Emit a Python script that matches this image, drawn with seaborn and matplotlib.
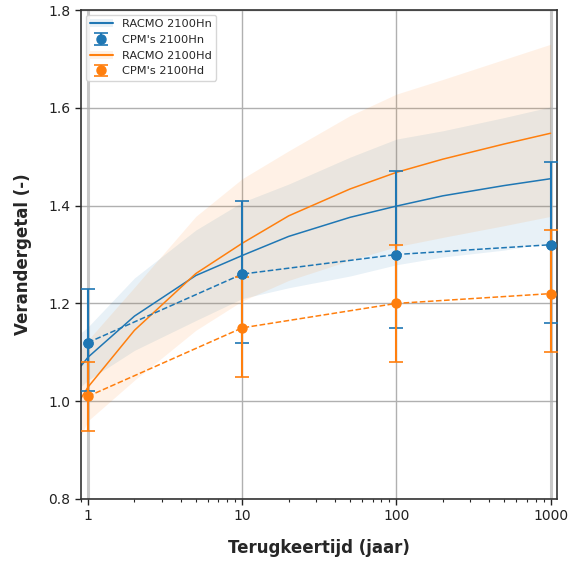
import numpy as np
import pandas as pd
import matplotlib
matplotlib.use("Agg")
import matplotlib.pyplot as plt
from matplotlib.ticker import FixedLocator, FixedFormatter, LogLocator, NullFormatter
from matplotlib.lines import Line2D
import seaborn as sns

# ---------------- data ----------------
racmo_x = [0.9, 1, 2, 5, 10, 20, 50, 100, 200, 500, 1000]
racmo_hn = [1.072, 1.090, 1.174, 1.257, 1.298, 1.337, 1.376, 1.399, 1.420, 1.441, 1.455]
racmo_hn_lo = [1.030, 1.043, 1.104, 1.165, 1.210, 1.232, 1.256, 1.279, 1.295, 1.309, 1.325]
racmo_hn_hi = [1.140, 1.152, 1.252, 1.350, 1.407, 1.444, 1.499, 1.536, 1.553, 1.580, 1.602]
racmo_hd = [1.006, 1.029, 1.145, 1.261, 1.323, 1.379, 1.434, 1.468, 1.495, 1.526, 1.548]
racmo_hd_lo = [0.930, 0.960, 1.043, 1.145, 1.205, 1.247, 1.288, 1.316, 1.335, 1.359, 1.378]
racmo_hd_hi = [1.105, 1.125, 1.233, 1.378, 1.455, 1.512, 1.584, 1.628, 1.658, 1.699, 1.730]

cpm_x = [1, 10, 100, 1000]
cpm_hn = [1.12, 1.26, 1.30, 1.32]
cpm_hn_lo = [1.02, 1.12, 1.15, 1.16]
cpm_hn_hi = [1.23, 1.41, 1.47, 1.49]
cpm_hd = [1.01, 1.15, 1.20, 1.22]
cpm_hd_lo = [0.94, 1.05, 1.08, 1.10]
cpm_hd_hi = [1.08, 1.255, 1.32, 1.35]

labels = ["RACMO 2100Hn", "CPM's 2100Hn", "RACMO 2100Hd", "CPM's 2100Hd"]
xticks = [1, 10, 100, 1000]
xticklabels = ["1", "10", "100", "1000"]
yticks = [0.8, 1.0, 1.2, 1.4, 1.6, 1.8]
xlabel = "Terugkeertijd (jaar)"
ylabel = "Verandergetal (-)"

# ---------------- plot ----------------
sns.set_style("ticks")
plt.rcParams['font.family'] = ['DejaVu Sans']

blue = "#1f77b4"
orange = "#ff7f0e"

fig = plt.figure(figsize=(5.68, 5.63), dpi=100)
ax = fig.add_axes([0.1426, 0.1137, 0.838, 0.8685])

df_hn = pd.DataFrame({"x": racmo_x, "y": racmo_hn})
df_hd = pd.DataFrame({"x": racmo_x, "y": racmo_hd})

fb = ax.fill_between(racmo_x, racmo_hn_lo, racmo_hn_hi, color=blue, alpha=0.1, lw=0, zorder=1)
sns.lineplot(data=df_hn, x="x", y="y", ax=ax, color=blue, lw=1.1, zorder=2)
fo = ax.fill_between(racmo_x, racmo_hd_lo, racmo_hd_hi, color=orange, alpha=0.1, lw=0, zorder=1)
sns.lineplot(data=df_hd, x="x", y="y", ax=ax, color=orange, lw=1.1, zorder=2)

hn_err = [np.array(cpm_hn) - np.array(cpm_hn_lo), np.array(cpm_hn_hi) - np.array(cpm_hn)]
hd_err = [np.array(cpm_hd) - np.array(cpm_hd_lo), np.array(cpm_hd_hi) - np.array(cpm_hd)]

eb_hn = ax.errorbar(cpm_x, cpm_hn, yerr=hn_err, fmt="o", color=blue, ms=6.5,
                    capsize=5, elinewidth=1.5, capthick=1.2, zorder=3)
ax.plot(cpm_x, cpm_hn, ls="--", color=blue, lw=1.1, zorder=3)
eb_hd = ax.errorbar(cpm_x, cpm_hd, yerr=hd_err, fmt="o", color=orange, ms=6.5,
                    capsize=5, elinewidth=1.5, capthick=1.2, zorder=4)
ax.plot(cpm_x, cpm_hd, ls="--", color=orange, lw=1.1, zorder=4)
ax.plot(cpm_x, cpm_hn, "o", color=blue, ms=6.5, zorder=5)

ax.set_xscale("log")
ax.set_xlim(0.9, 1100)
ax.set_ylim(0.8, 1.8)
ax.xaxis.set_major_locator(FixedLocator(xticks))
ax.xaxis.set_major_formatter(FixedFormatter(xticklabels))
ax.xaxis.set_minor_locator(LogLocator(base=10, subs=np.arange(2, 10)))
ax.xaxis.set_minor_formatter(NullFormatter())
ax.set_yticks(yticks)
ax.set_yticklabels([f"{v:.1f}" for v in yticks])
ax.grid(True, which="major", color="#b0b0b0", lw=1.0)
glines = ax.get_xgridlines()
for gl in (glines[0], glines[-1]):
    gl.set_linewidth(2.2)
    gl.set_color("#c8c8c8")
ax.tick_params(labelsize=10, length=4, width=1, colors="#222222")
ax.tick_params(which="minor", length=2.5, width=0.8)
for s in ax.spines.values():
    s.set_color("#333333")
    s.set_linewidth(1.2)

ax.set_xlabel(xlabel, fontsize=12, fontweight="bold", labelpad=11)
ax.set_ylabel(ylabel, fontsize=12, fontweight="bold", labelpad=12)

h_hn = (fb, Line2D([], [], color=blue, lw=1.5))
h_hd = (fo, Line2D([], [], color=orange, lw=1.5))
ax.legend([h_hn, eb_hn, h_hd, eb_hd], labels, loc="upper left", fontsize=8.2,
          frameon=True, framealpha=0.8, edgecolor="#cccccc", fancybox=True,
          borderaxespad=0.4)

fig.savefig("out.png", dpi=100)
